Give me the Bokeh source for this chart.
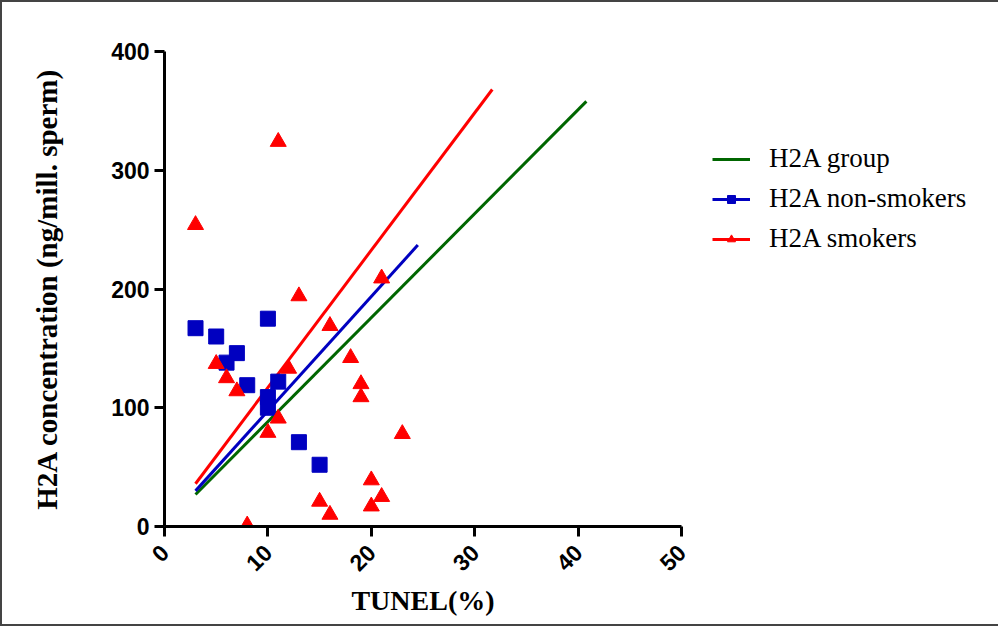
from bokeh.plotting import figure
from bokeh.models import Range1d, FixedTicker, Legend, LegendItem
from bokeh.embed import file_html
from bokeh.resources import INLINE
from math import pi

# H2A non-smokers (TUNEL %, H2A ng/mill. sperm)
nonsmoker_x = [3, 5, 6, 7, 8, 10, 10, 10, 11, 13, 15]
nonsmoker_y = [167, 160, 138, 146, 119, 175, 109, 100, 122, 71, 52]

# H2A smokers
smoker_x = [3, 5, 6, 7, 8, 10, 11, 11, 12, 13, 15, 16, 16, 18, 19, 19, 20, 20, 21, 21, 23]
smoker_y = [254, 137, 125, 114, 1, 79, 324, 91, 133, 194, 21, 169, 10, 142, 120, 109, 39, 17, 25, 209, 78]

# regression lines (end points)
group_fit_x = [3, 40.8]
group_fit_y = [27, 358]
nonsmoker_fit_x = [3, 24.5]
nonsmoker_fit_y = [30, 237]
smoker_fit_x = [3, 31.7]
smoker_fit_y = [36, 368]

x_ticks = [0, 10, 20, 30, 40, 50]
y_ticks = [0, 100, 200, 300, 400]

GREEN = "#006600"
BLUE = "#0000C0"
RED = "#FF0000"

p = figure(width=982, height=622, frame_width=517, frame_height=475,
           output_backend="svg", toolbar_location=None,
           x_range=Range1d(0, 50), y_range=Range1d(0, 400),
           min_border_left=162, min_border_right=0, min_border_top=49, min_border_bottom=98)
p.styles = {"border": "2px solid #444", "box-sizing": "border-box"}
p.outline_line_color = None
p.grid.visible = False
p.background_fill_color = "white"
p.border_fill_color = "white"

for ax in (p.xaxis[0], p.yaxis[0]):
    ax.axis_line_width = 3
    ax.axis_line_color = "black"
    ax.major_tick_line_width = 3
    ax.major_tick_line_color = "black"
    ax.major_tick_out = 10
    ax.major_tick_in = 0
    ax.minor_tick_line_color = None
    ax.major_label_text_font = "Liberation Sans"
    ax.major_label_text_font_style = "bold"
    ax.major_label_text_font_size = "23px"
    ax.major_label_text_color = "black"
    ax.axis_label_text_font = "Liberation Serif"
    ax.axis_label_text_font_style = "bold"
    ax.axis_label_text_font_size = "28px"
    ax.axis_label_text_color = "black"

p.yaxis[0].axis_label_text_font_size = "29px"
p.xaxis[0].ticker = FixedTicker(ticks=x_ticks)
p.yaxis[0].ticker = FixedTicker(ticks=y_ticks)
p.xaxis[0].major_label_orientation = pi / 4
p.xaxis[0].major_label_standoff = 12
p.yaxis[0].major_label_standoff = 5
p.xaxis[0].axis_label = "TUNEL(%)"
p.yaxis[0].axis_label = "H2A concentration (ng/mill. sperm)"
p.xaxis[0].axis_label_standoff = 3
p.yaxis[0].axis_label_standoff = 45

g_line = p.line(group_fit_x, group_fit_y, line_color=GREEN, line_width=3)
b_line = p.line(nonsmoker_fit_x, nonsmoker_fit_y, line_color=BLUE, line_width=3)
r_line = p.line(smoker_fit_x, smoker_fit_y, line_color=RED, line_width=3)

b_pts = p.scatter(nonsmoker_x, nonsmoker_y, marker="square", size=15,
                  fill_color=BLUE, line_color=BLUE, line_width=1)
r_pts = p.scatter(smoker_x, smoker_y, marker="triangle", size=16,
                  fill_color=RED, line_color=RED, line_width=1)

legend = Legend(items=[
    LegendItem(label="H2A group", renderers=[g_line]),
    LegendItem(label="H2A non-smokers", renderers=[b_line, b_pts]),
    LegendItem(label="H2A smokers", renderers=[r_line, r_pts]),
], location=(31, 272))
legend.label_text_font = "Liberation Serif"
legend.label_text_font_size = "27px"
legend.label_text_color = "black"
legend.glyph_width = 38
legend.glyph_height = 20
legend.label_standoff = 19
legend.spacing = 9
legend.padding = 0
legend.margin = 0
legend.border_line_color = None
legend.background_fill_alpha = 0
p.add_layout(legend, "right")

open("out.html", "w").write(file_html(p, INLINE))
